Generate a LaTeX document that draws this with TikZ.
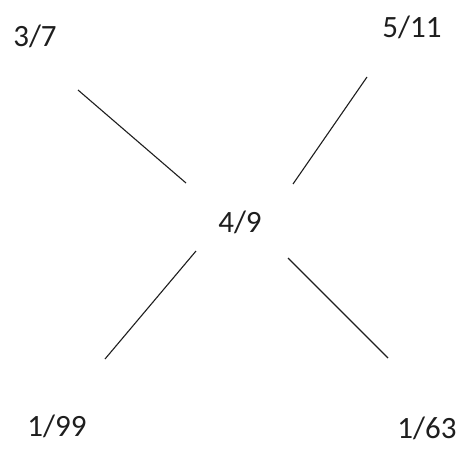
\documentclass[tikz,border=0pt]{standalone}
\usepackage{fontspec}
\setmainfont{Carlito}
\usetikzlibrary{positioning}
\definecolor{inkgray}{RGB}{30,30,30}

\begin{document}
\begin{tikzpicture}[x=1pt,y=-1pt,
    frac/.style={text=inkgray,font=\fontsize{31}{36}\selectfont,inner sep=0pt},
    spoke/.style={draw=inkgray,line width=1.1pt}]
  \useasboundingbox[fill=white] (0,0) rectangle (462,452);
  % fractions
  \node[frac] (centre) at (240,222) {4/9};
  \node[frac] (nw) at (35,36) {3/7};
  \node[frac] (ne) at (412,27) {5/11};
  \node[frac] (sw) at (57,426) {1/99};
  \node[frac] (se) at (427,428) {1/63};
  % spoke ends
  \coordinate (nwa) at (78,90);   \coordinate (nwb) at (186,183);
  \coordinate (nea) at (367,77);  \coordinate (neb) at (293,184);
  \coordinate (swa) at (196,251); \coordinate (swb) at (105,359);
  \coordinate (sea) at (288,258); \coordinate (seb) at (388,358);
  \draw[spoke] (nwa) -- (nwb);
  \draw[spoke] (nea) -- (neb);
  \draw[spoke] (swa) -- (swb);
  \draw[spoke] (sea) -- (seb);
\end{tikzpicture}
\end{document}
